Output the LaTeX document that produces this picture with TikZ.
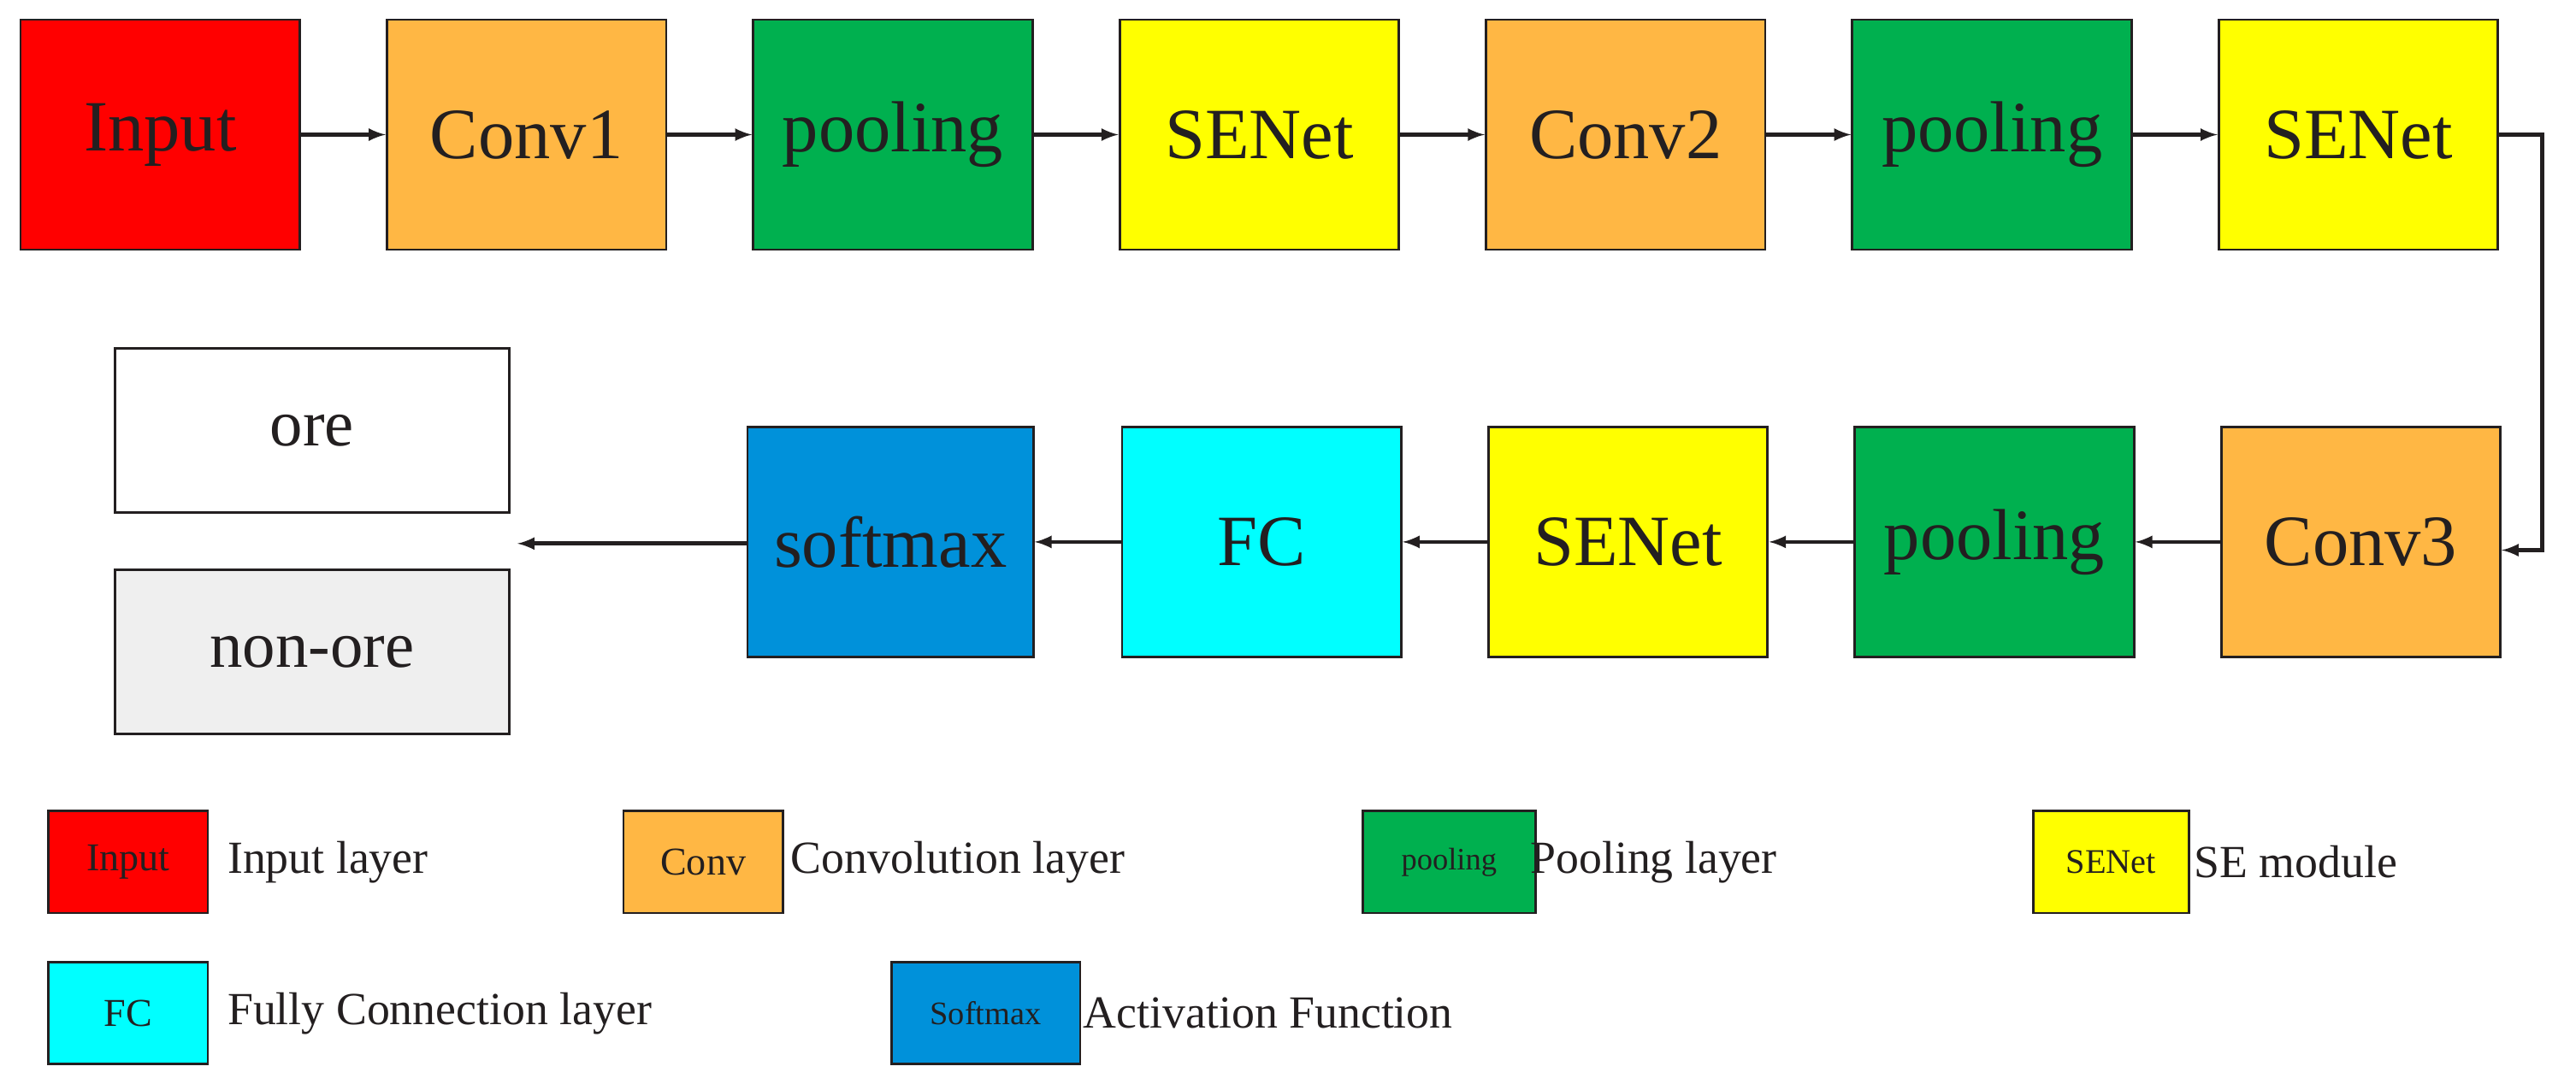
\documentclass[tikz,border=0pt]{standalone}
\usepackage{fontspec}
\setmainfont{Liberation Serif}
\usetikzlibrary{positioning}
\definecolor{cinput}{HTML}{FF0000}
\definecolor{cconv}{HTML}{FFB744}
\definecolor{cpool}{HTML}{00B04F}
\definecolor{cse}{HTML}{FFFF00}
\definecolor{cfc}{HTML}{00FFFF}
\definecolor{csoft}{HTML}{0091DA}
\definecolor{cnon}{HTML}{EFEFEF}
\definecolor{ctext}{HTML}{231F20}
\begin{document}
\begin{tikzpicture}[x=1pt,y=-1pt]
	\tikzstyle{layer} = [ draw=ctext, line width=1.5pt, minimum width=170pt, minimum height=140pt, inner sep=0pt, font={\fontsize{44}{48}\selectfont}, text=ctext];
	\tikzstyle{classbox} = [ draw=ctext, line width=1.5pt, minimum width=240pt, minimum height=100pt, font={\fontsize{40}{44}\selectfont}, text=ctext];
	\tikzstyle{key} = [ draw=ctext, line width=1.5pt, minimum width=97pt, minimum height=62pt, inner sep=0pt, font={\fontsize{24}{26}\selectfont}, text=ctext];
	\tikzstyle{keytext} = [ anchor=west, font={\fontsize{28}{30}\selectfont}, text=ctext];
	\tikzstyle{flow} = [ ->, >=latex, line width=2.5pt, color=ctext];

	\useasboundingbox (0,0) rectangle (1568,660);

	% top row
	\foreach \name/\txt/\col [count=\xi] in {input/Input/cinput,conv1/Conv1/cconv,poolA/pooling/cpool,seA/SENet/cse,conv2/Conv2/cconv,poolB/pooling/cpool,seB/SENet/cse} {
		\node[layer, fill=\col] (\name) at ({97.5+223*(\xi-1)},82) {\txt};
	}
	\draw[flow] (input) -- (conv1);
	\draw[flow] (conv1) -- (poolA);
	\draw[flow] (poolA) -- (seA);
	\draw[flow] (seA) -- (conv2);
	\draw[flow] (conv2) -- (poolB);
	\draw[flow] (poolB) -- (seB);

	% bottom row
	\node[layer, fill=cconv] (conv3) at (1437,330) {Conv3};
	\node[layer, fill=cpool] (poolC) at (1214,330) {pooling};
	\node[layer, fill=cse] (seC) at (991,330) {SENet};
	\node[layer, fill=cfc] (fc) at (768,330) {FC};
	\node[layer, fill=csoft, minimum width=174pt] (soft) at (542,330) {softmax};
	\node[classbox] (ore) at (190,262) {ore};
	\node[classbox, fill=cnon] (nonore) at (190,397) {non-ore};
	\coordinate (result) at (315,331);

	\draw[flow] (seB.east) -- ++(26,0) |- ([yshift=-5pt]conv3.east);
	\draw[flow] (conv3) -- (poolC);
	\draw[flow] (poolC) -- (seC);
	\draw[flow] (seC) -- (fc);
	\draw[flow] (fc) -- (soft);
	\draw[flow] (soft.west |- result) -- (result);

	% legend
	\node[key, fill=cinput] (kinput) at (78,525) {Input};
	\node[keytext] at (135,525) {Input layer};
	\node[key, fill=cconv] (kconv) at (428,525) {Conv};
	\node[keytext] at (478,525) {Convolution layer};
	\node[key, fill=cpool, minimum width=105pt, font={\fontsize{19}{21}\selectfont}] (kpool) at (882,525) {pooling};
	\node[keytext] at (928,525) {Pooling layer};
	\node[key, fill=cse, minimum width=95pt, font={\fontsize{21}{23}\selectfont}] (kse) at (1285,525) {SENet};
	\node[keytext] at (1332,525) {SE module};
	\node[key, fill=cfc] (kfc) at (78,617) {FC};
	\node[keytext] at (135,617) {Fully Connection layer};
	\node[key, fill=csoft, minimum width=115pt, font={\fontsize{20}{22}\selectfont}] (ksoft) at (600,617) {Softmax};
	\node[keytext] at (656,617) {Activation Function};
\end{tikzpicture}
\end{document}
